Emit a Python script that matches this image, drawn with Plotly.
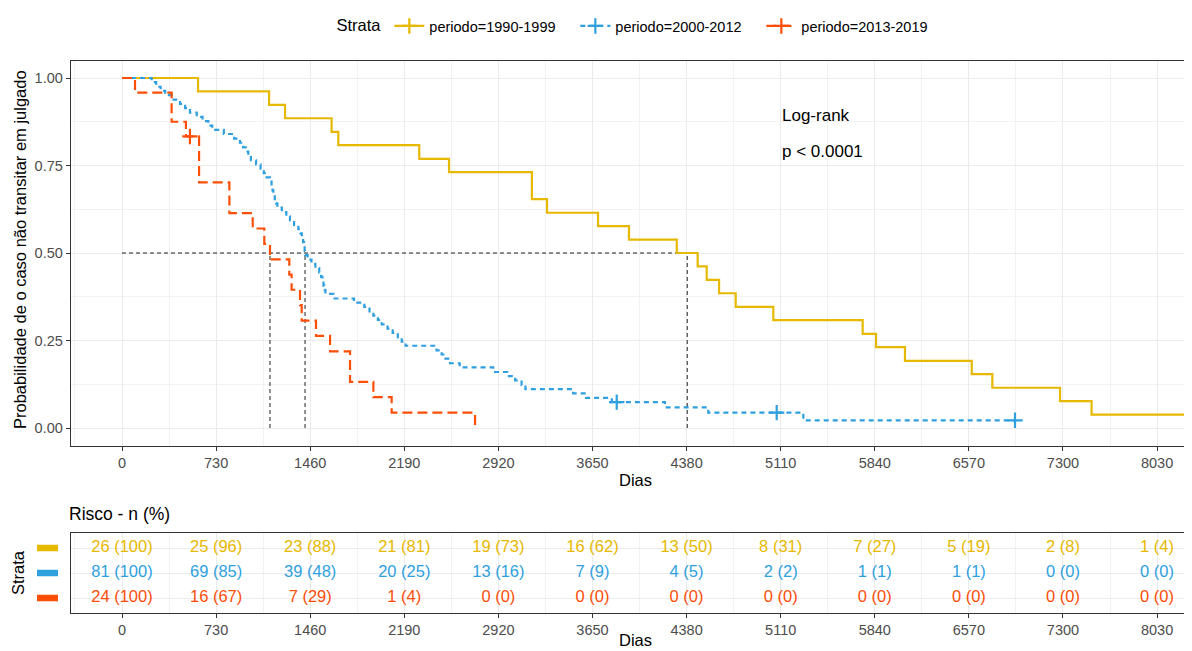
import plotly.graph_objects as go

# Kaplan-Meier curves (days, survival)
yellow_time = [0, 590, 1141, 1265, 1626, 1678, 2306, 2537, 3180, 3297, 3693, 3933, 4304,
               4466, 4536, 4632, 4761, 5053, 5746, 5850, 6074, 6592, 6752, 7277, 7522, 8400]
yellow_surv = [1.000, 0.962, 0.923, 0.885, 0.846, 0.808, 0.769, 0.731, 0.654, 0.615, 0.577, 0.538, 0.500,
               0.462, 0.423, 0.385, 0.346, 0.308, 0.269, 0.231, 0.192, 0.154, 0.115, 0.077, 0.038, 0.038]

blue_time = [0, 230, 265, 300, 335, 400, 450, 490, 527, 580, 625, 670, 700, 790, 870, 915, 940, 960,
             980, 1000, 1040, 1075, 1100, 1122, 1148, 1160, 1168, 1174, 1185, 1195, 1205, 1240, 1275,
             1303, 1335, 1368, 1385, 1395, 1405, 1412, 1417, 1420, 1440, 1470, 1500, 1530, 1545, 1555,
             1563, 1570, 1578, 1640, 1800, 1880, 1920, 1950, 1985, 2015, 2060, 2100, 2140, 2170, 2200,
             2440, 2480, 2510, 2545, 2620, 2880, 2990, 3050, 3100, 3130, 3500, 3600, 3800, 4212, 4548,
             5286, 6928]
blue_surv = [1.000, 0.988, 0.975, 0.963, 0.951, 0.938, 0.926, 0.914, 0.901, 0.889, 0.877, 0.864, 0.852,
             0.840, 0.827, 0.815, 0.802, 0.790, 0.778, 0.765, 0.753, 0.741, 0.728, 0.716, 0.704, 0.691,
             0.679, 0.667, 0.654, 0.642, 0.630, 0.617, 0.605, 0.593, 0.580, 0.568, 0.556, 0.543, 0.531,
             0.519, 0.506, 0.494, 0.481, 0.469, 0.457, 0.444, 0.432, 0.420, 0.407, 0.395, 0.383, 0.370,
             0.358, 0.346, 0.333, 0.321, 0.309, 0.296, 0.284, 0.272, 0.259, 0.247, 0.235, 0.222, 0.210,
             0.198, 0.185, 0.173, 0.160, 0.148, 0.136, 0.123, 0.111, 0.099, 0.086, 0.074, 0.059, 0.044,
             0.022, 0.022]

red_time = [0, 101, 385, 496, 598, 833, 1014, 1104, 1148, 1298, 1316, 1381, 1394, 1505, 1614, 1769,
            1950, 2092, 2739]
red_surv = [1.000, 0.958, 0.875, 0.833, 0.702, 0.614, 0.570, 0.526, 0.482, 0.438, 0.395, 0.351, 0.307,
            0.263, 0.219, 0.132, 0.088, 0.044, 0.000]

# censored observations
blue_cens_time = [3838, 5079, 6928]
blue_cens_surv = [0.074, 0.044, 0.022]
red_cens_time = [527]
red_cens_surv = [0.833]

# medians
median_time = [1148, 1420, 4385]

# number at risk
risk_time = [0, 730, 1460, 2190, 2920, 3650, 4380, 5110, 5840, 6570, 7300, 8030]
risk_yellow_n = [26, 25, 23, 21, 19, 16, 13, 8, 7, 5, 2, 1]
risk_yellow_pct = [100, 96, 88, 81, 73, 62, 50, 31, 27, 19, 8, 4]
risk_blue_n = [81, 69, 39, 20, 13, 7, 4, 2, 1, 1, 0, 0]
risk_blue_pct = [100, 85, 48, 25, 16, 9, 5, 2, 1, 1, 0, 0]
risk_red_n = [24, 16, 7, 1, 0, 0, 0, 0, 0, 0, 0, 0]
risk_red_pct = [100, 67, 29, 4, 0, 0, 0, 0, 0, 0, 0, 0]

strata = ["periodo=1990-1999", "periodo=2000-2012", "periodo=2013-2019"]
colors = ["#E7B800", "#2E9FDF", "#FC4E07"]
dashes = ["solid", "5px,4px", "10px,5px"]

FONT = "Liberation Sans, Arial, sans-serif"
W, H = 1184, 643      # page has an 8px body margin
XR = [-398, 8301]


def px(x):
    return (x - 8) / W


def py(y):
    return 1 - (y - 8) / H


fig = go.Figure()

# median reference lines
fig.add_trace(go.Scatter(x=[0, median_time[2]], y=[0.5, 0.5], mode="lines",
                         line=dict(color="#222", width=1, dash="4px,3px"),
                         showlegend=False, hoverinfo="skip"))
for t in median_time:
    fig.add_trace(go.Scatter(x=[t, t], y=[0, 0.5], mode="lines",
                             line=dict(color="#222", width=1, dash="4px,3px"),
                             showlegend=False, hoverinfo="skip"))

curves = [(yellow_time, yellow_surv, [], []),
          (blue_time, blue_surv, blue_cens_time, blue_cens_surv),
          (red_time, red_surv, red_cens_time, red_cens_surv)]
for i, (t, s, ct, cs) in enumerate(curves):
    fig.add_trace(go.Scatter(x=t, y=s, mode="lines", line_shape="hv",
                             line=dict(color=colors[i], width=2.2, dash=dashes[i]),
                             showlegend=False))
    if ct:
        fig.add_trace(go.Scatter(x=ct, y=cs, mode="markers",
                                 marker=dict(symbol="cross-thin", size=11,
                                             line=dict(color=colors[i], width=2.2)),
                                 showlegend=False))
    # legend key
    fig.add_trace(go.Scatter(x=[None], y=[None], mode="lines+markers", name=strata[i],
                             line=dict(color=colors[i], width=2.2, dash=dashes[i]),
                             marker=dict(symbol="cross-thin", size=11,
                                         line=dict(color=colors[i], width=2.2))))

# risk table text
rows = [(risk_yellow_n, risk_yellow_pct, 3), (risk_blue_n, risk_blue_pct, 2), (risk_red_n, risk_red_pct, 1)]
for i, (n, p, row) in enumerate(rows):
    fig.add_trace(go.Scatter(x=risk_time, y=[row] * len(risk_time), mode="text",
                             text=[f"{a} ({b})" for a, b in zip(n, p)],
                             textfont=dict(color=colors[i], size=16.5, family=FONT),
                             xaxis="x2", yaxis="y2", showlegend=False, hoverinfo="skip"))

# colored strata keys for the table
for i, row in enumerate([3, 2, 1]):
    fig.add_shape(type="rect", xref="paper", yref="y2", x0=px(37), x1=px(58),
                  y0=row - 0.13, y1=row + 0.13, fillcolor=colors[i], line_width=0)

axis_common = dict(showline=True, mirror=True, linecolor="#333333", linewidth=1,
                   ticks="outside", ticklen=4, tickcolor="#333333",
                   tickfont=dict(size=14.5, color="#4D4D4D", family=FONT),
                   gridcolor="#EBEBEB", gridwidth=1, zeroline=False)
minor_x = dict(tickvals=[365 + 730 * k for k in range(-1, 12)], showgrid=True,
               gridcolor="#F2F2F2", gridwidth=1, ticks="")

fig.update_layout(
    width=W, height=H,
    margin=dict(l=0, r=0, t=0, b=0),
    paper_bgcolor="white", plot_bgcolor="white",
    font=dict(family=FONT, color="black"),
    xaxis=dict(domain=[px(70.7), 1], range=XR, tickmode="array", tickvals=risk_time,
               minor=minor_x, anchor="y", **axis_common),
    yaxis=dict(domain=[py(445.5), py(60.5)], range=[-0.05, 1.05], tickmode="array",
               tickvals=[0, 0.25, 0.5, 0.75, 1], ticktext=["0.00", "0.25", "0.50", "0.75", "1.00"],
               minor=dict(tickvals=[0.125, 0.375, 0.625, 0.875], showgrid=True,
                          gridcolor="#F2F2F2", gridwidth=1, ticks=""),
               anchor="x", **axis_common),
    xaxis2=dict(domain=[px(70.7), 1], range=XR, tickmode="array", tickvals=risk_time,
                minor=minor_x, anchor="y2", **axis_common),
    yaxis2=dict(domain=[py(613), py(533)], range=[0.4, 3.6], tickvals=[1, 2, 3],
                showticklabels=False, anchor="x2",
                **{k: v for k, v in axis_common.items() if k != "ticks"}, ticks=""),
    legend=dict(orientation="h", x=px(641), xanchor="center", y=py(26), yanchor="middle",
                font=dict(size=14.5, family=FONT), itemwidth=30,
                entrywidth=141, entrywidthmode="pixels",
                title=dict(text="Strata", font=dict(size=16.5, family=FONT))),
    annotations=[
        dict(text="Probabilidade de o caso não transitar em julgado", xref="paper", yref="paper",
             x=px(20), y=py(250), xanchor="center", yanchor="middle", textangle=-90,
             showarrow=False, font=dict(size=16.5)),
        dict(text="Dias", xref="paper", yref="paper", x=px(635), y=py(480),
             xanchor="center", yanchor="middle", showarrow=False, font=dict(size=16.5)),
        dict(text="Log-rank", xref="x", yref="y", x=5105, y=0.894, xanchor="left", yanchor="middle",
             showarrow=False, font=dict(size=17)),
        dict(text="p < 0.0001", xref="x", yref="y", x=5105, y=0.789, xanchor="left", yanchor="middle",
             showarrow=False, font=dict(size=17)),
        dict(text="Risco - n (%)", xref="paper", yref="paper", x=px(67), y=py(514),
             xanchor="left", yanchor="middle", showarrow=False, font=dict(size=17.5)),
        dict(text="Strata", xref="paper", yref="paper", x=px(18), y=py(573),
             xanchor="center", yanchor="middle", textangle=-90, showarrow=False,
             font=dict(size=16.5)),
        dict(text="Dias", xref="paper", yref="paper", x=px(635), y=py(640),
             xanchor="center", yanchor="middle", showarrow=False, font=dict(size=16.5)),
    ],
)

fig.write_html("out.html")
